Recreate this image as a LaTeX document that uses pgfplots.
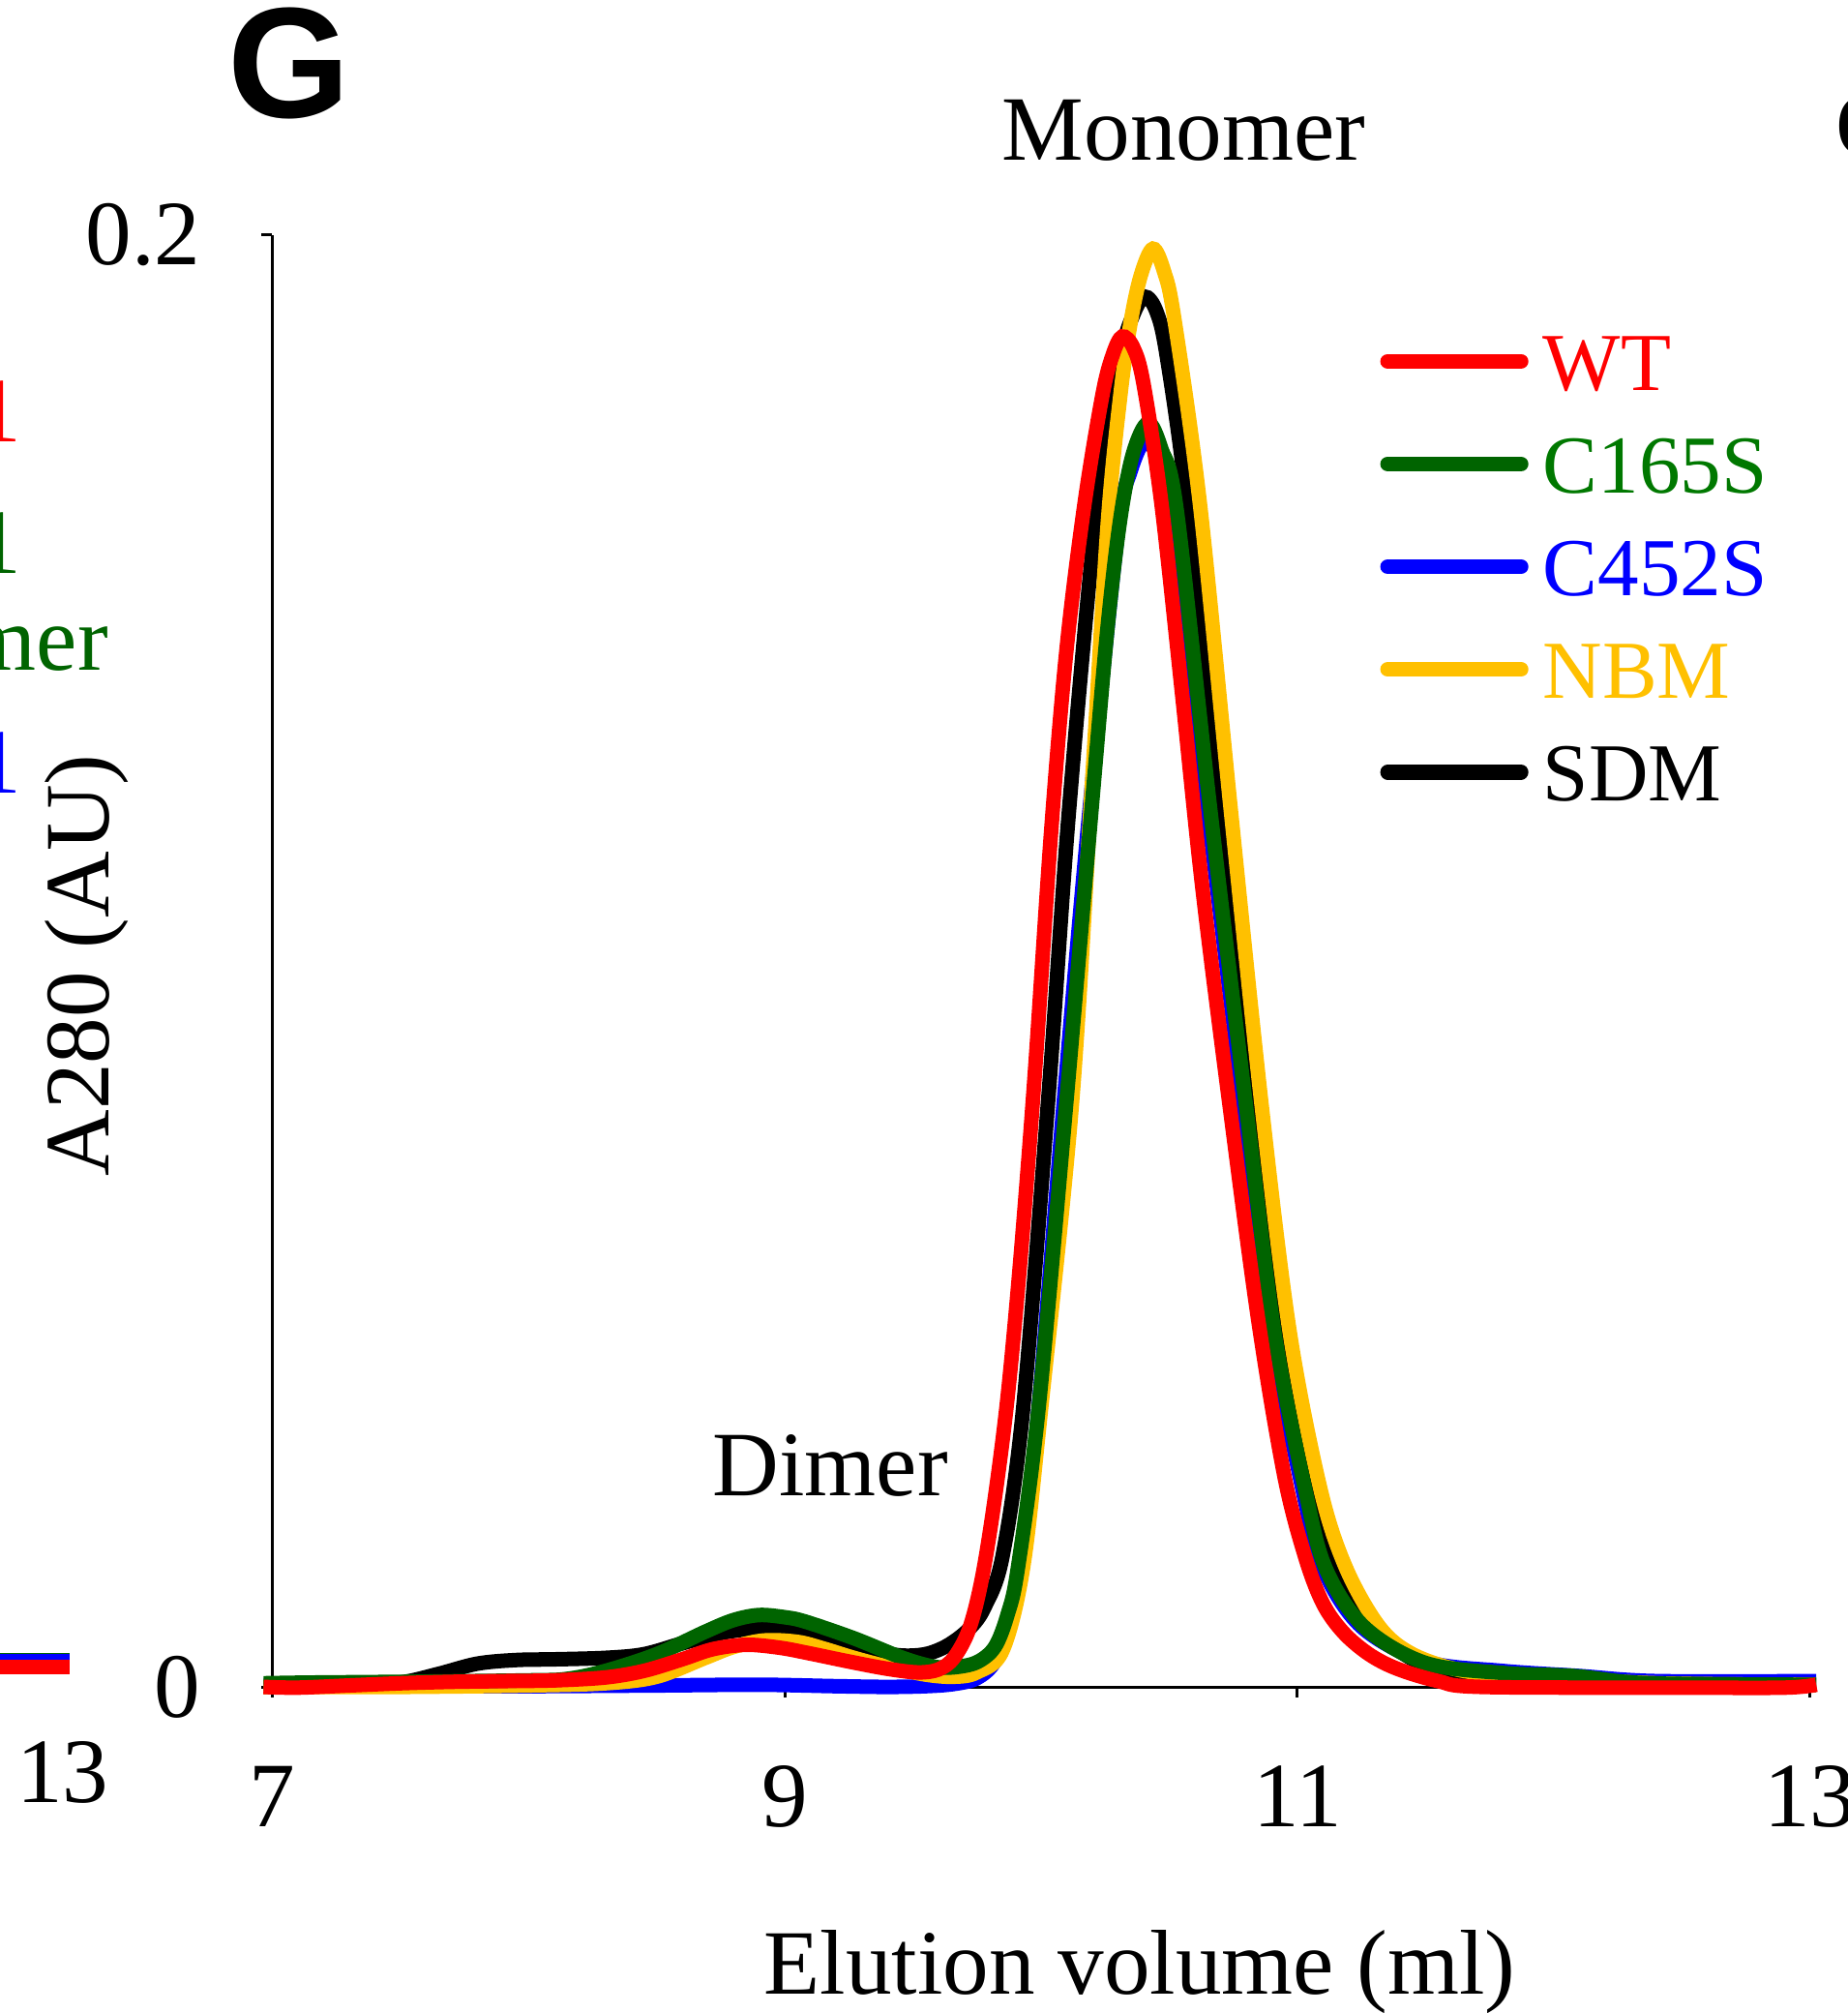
\documentclass[border=0pt]{standalone}
\usepackage{pgfplots}
\pgfplotsset{compat=1.18}
\usepackage{fontspec}
\setmainfont{Liberation Serif}
\newfontfamily\arialb{Liberation Sans}
\definecolor{cgreen}{RGB}{0,100,0}
\definecolor{tgreen}{RGB}{0,120,0}
\definecolor{cyellow}{RGB}{255,192,0}
\definecolor{cblue}{RGB}{0,0,255}
\definecolor{cred}{RGB}{255,0,0}
\newcommand{\fs}{\fontsize{19}{19}\selectfont}
\begin{document}
\begin{tikzpicture}
% neighbouring panel (only its right end is visible)
\begin{axis}[
 at={(-360.7pt,4.8pt)}, anchor=south west, scale only axis, width=317.5pt, height=299.7pt,
 xmin=7, xmax=13, ymin=0, ymax=0.2, hide axis, clip=false]
\addplot[cgreen, line width=3pt] coordinates {(12.6,0.0005) (13.025,0.0005)};
\addplot[cblue, line width=3pt] coordinates {(12.6,0.00035) (13.025,0.00035)};
\addplot[cred, line width=3pt] coordinates {(12.6,-0.0004) (13.025,-0.0004)};
\node[anchor=base, font=\fs] at (axis cs:13,-0.0191) {13};
\end{axis}
\begin{axis}[
 at={(0pt,0pt)}, anchor=south west, scale only axis, width=317.5pt, height=299.7pt,
 xmin=7, xmax=13, ymin=0, ymax=0.2,
 axis lines=left, axis line style={-, line width=0.6pt, black},
 clip=false,
 xtick={7,9,11,13}, ytick={0,0.2},
 tick align=outside, major tick length=2.2pt, tick style={line width=0.6pt, black},
 scaled y ticks=false,
 /pgf/number format/assume math mode=true,
 ticklabel style={font=\fs},
 xticklabel style={yshift=-10.6pt},
 yticklabel style={xshift=-9pt},
 legend cell align=left,
 legend style={draw=none, fill=none, at={(rel axis cs:0.7200,0.9337)}, anchor=north west,
   inner sep=0pt, row sep=9.2pt, column sep=3pt, font=\fontsize{17}{17}\selectfont,
   nodes={inner sep=0pt, text height=12pt, text depth=0pt}},
 legend image code/.code={\draw[#1, line cap=round, line width=3.1pt] (0pt,0pt) -- (27.5pt,0pt);},
]
\addlegendimage{cred}\addlegendentry{\textcolor{cred}{WT}}
\addlegendimage{cgreen}\addlegendentry{\textcolor{tgreen}{C165S}}
\addlegendimage{cblue}\addlegendentry{\textcolor{cblue}{C452S}}
\addlegendimage{cyellow}\addlegendentry{\textcolor{cyellow}{NBM}}
\addlegendimage{black}\addlegendentry{\textcolor{black}{SDM}}

% C452S
\addplot[cblue, line width=3pt, smooth, tension=0.55, forget plot] coordinates {
(6.967,0.0002) (7.5,0.0001) (8.0,0.0001) (8.5,0.0002) (8.9,0.0003) (9.2,0.0001) (9.4,0.0000)
(9.55,0.0001) (9.66,0.0004) (9.75,0.0012) (9.82,0.0035) (9.88,0.0090) (9.92,0.0160)
(9.99,0.0382) (10.09,0.0810) (10.19,0.1210) (10.30,0.1590) (10.35,0.1675) (10.41,0.1717)
(10.47,0.1680) (10.52,0.1600)
(10.65,0.1210) (10.79,0.0800) (10.90,0.0490) (11.02,0.0273) (11.10,0.0164) (11.25,0.0083)
(11.50,0.0035) (11.80,0.0022) (12.10,0.0015) (12.40,0.0008) (13.025,0.0008)};
% SDM
\addplot[black, line width=3pt, smooth, tension=0.55, forget plot] coordinates {
(6.967,0.0000) (7.30,0.0002) (7.50,0.0006) (7.65,0.0018) (7.80,0.0032) (7.95,0.0037)
(8.10,0.0038) (8.30,0.0040) (8.45,0.0045) (8.60,0.0060) (8.75,0.0074) (8.88,0.0080)
(9.00,0.0078) (9.10,0.0071) (9.27,0.0058) (9.40,0.0046) (9.48,0.0043) (9.56,0.0046)
(9.64,0.0058) (9.72,0.0080) (9.78,0.0110) (9.85,0.0180) (9.93,0.0382) (10.03,0.0817)
(10.11,0.1210) (10.22,0.1630) (10.31,0.1830) (10.36,0.1890) (10.405,0.1915) (10.45,0.1895)
(10.49,0.1835) (10.57,0.1630)
(10.69,0.1210) (10.83,0.0800) (10.94,0.0490) (11.06,0.0273) (11.15,0.0164) (11.29,0.0083)
(11.50,0.0030) (11.80,0.0015) (12.30,0.0005) (13.025,0.0003)};
% NBM
\addplot[cyellow, line width=3pt, smooth, tension=0.55, forget plot] coordinates {
(6.967,0.0000) (7.50,0.0000) (8.00,0.0002) (8.30,0.0005) (8.50,0.0014) (8.69,0.0040)
(8.80,0.0055) (8.92,0.0064) (9.05,0.0062) (9.15,0.0053) (9.27,0.0040) (9.40,0.0028)
(9.55,0.0017) (9.66,0.0014) (9.75,0.0020) (9.85,0.0050) (9.93,0.0164) (10.00,0.0382)
(10.12,0.0800) (10.20,0.1250) (10.26,0.1600) (10.31,0.1780) (10.35,0.1880) (10.39,0.1945)
(10.437,0.1981) (10.48,0.1950) (10.52,0.1885)
(10.62,0.1630) (10.74,0.1210) (10.86,0.0804) (10.97,0.0490) (11.09,0.0273) (11.19,0.0164)
(11.32,0.0083) (11.45,0.0045) (11.65,0.0022) (11.90,0.0015) (12.40,0.0005) (13.025,0.0003)};
% C165S
\addplot[cgreen, line width=3pt, smooth, tension=0.55, forget plot] coordinates {
(6.967,0.0005) (7.15,0.0006) (7.50,0.0007) (8.00,0.0009) (8.15,0.0011) (8.30,0.0022)
(8.50,0.0045) (8.69,0.0076) (8.80,0.0092) (8.90,0.0099) (9.00,0.0096) (9.08,0.0090)
(9.27,0.0067) (9.46,0.0040) (9.58,0.0028) (9.66,0.0027) (9.75,0.0034) (9.82,0.0055)
(9.87,0.0100) (9.91,0.0164) (9.99,0.0382) (10.10,0.0810) (10.20,0.1220) (10.26,0.1460)
(10.31,0.1610) (10.36,0.1700) (10.418,0.1741) (10.47,0.1705) (10.53,0.1620) (10.66,0.1210)
(10.80,0.0800) (10.91,0.0490) (11.03,0.0273) (11.11,0.0164) (11.26,0.0083) (11.50,0.0033)
(11.81,0.0019) (12.08,0.0015) (12.37,0.0005) (13.025,0.0003)};
% WT
\addplot[cred, line width=3pt, smooth, tension=0.55, forget plot] coordinates {
(6.967,0.0000) (7.10,-0.0001) (7.30,0.0002) (7.50,0.0005) (7.70,0.0007) (7.90,0.0008)
(8.10,0.0009) (8.30,0.0013) (8.45,0.0022) (8.60,0.0038) (8.72,0.0052) (8.85,0.0058)
(8.98,0.0054) (9.10,0.0046) (9.25,0.0035) (9.40,0.0025) (9.52,0.0020) (9.60,0.0024)
(9.66,0.0040) (9.72,0.0080) (9.77,0.0150) (9.82,0.0260) (9.87,0.0400) (9.92,0.0590)
(9.975,0.0840) (10.04,0.1180) (10.10,0.1430) (10.17,0.1630) (10.24,0.1780) (10.28,0.1835)
(10.317,0.1860) (10.36,0.1845) (10.40,0.1795) (10.47,0.1630) (10.55,0.1370) (10.63,0.1100)
(10.74,0.0790) (10.85,0.0500) (10.95,0.0290) (11.03,0.0180) (11.10,0.0115) (11.18,0.0075)
(11.28,0.0045) (11.39,0.0025) (11.55,0.0008) (11.72,0.0000) (12.50,-0.0001) (12.90,-0.0001)
(13.025,0.0003)};

\node[anchor=base, font=\fs] at (axis cs:10.557,0.2103) {Monomer};
\node[anchor=base, font=\fs] at (axis cs:9.178,0.02635) {Dimer};
\node[anchor=base, font=\arialb\bfseries\fontsize{32.5}{32.5}\selectfont] at (axis cs:7.065,0.2162) {G};
\node[anchor=base, rotate=90, font=\fs] at (rel axis cs:-0.106,0.497) {A280 (AU)};
\node[anchor=base, font=\fs] at (rel axis cs:0.5643,-0.2113) {Elution volume (ml)};
% fragments of neighbouring panels
\node[anchor=base east, inner sep=0pt, font=\fs, text=cred] at (axis cs:6.0264,0.17153) {1};
\node[anchor=base east, inner sep=0pt, font=\fs, text=cgreen] at (axis cs:6.0264,0.15332) {1};
\node[anchor=base east, inner sep=0pt, font=\fs, text=cgreen] at (axis cs:6.364,0.14005) {mer};
\node[anchor=base east, inner sep=0pt, font=\fs, text=cblue] at (axis cs:6.0264,0.12308) {1};
\node[anchor=base west, inner sep=0pt, font=\fs] at (axis cs:13.098,0.21079) {O};
\end{axis}
\pgfresetboundingbox
\useasboundingbox (-56.18pt,-67.31pt) rectangle (325.2pt,348.2pt);
\end{tikzpicture}
\end{document}
